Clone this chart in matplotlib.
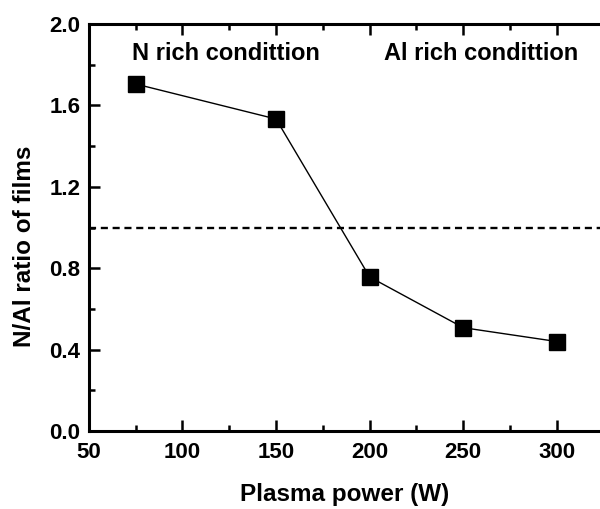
import numpy as np
import matplotlib.pyplot as plt
from matplotlib.ticker import MultipleLocator

plt.rcParams['font.family'] = ['Liberation Sans', 'DejaVu Sans']
plt.rcParams['font.weight'] = 'bold'

# plasma power (W) and N/Al ratio
power = [75, 150, 200, 250, 300]
ratio = [1.705, 1.533, 0.757, 0.508, 0.440]
stoich = 1.0

fig = plt.figure(figsize=(6.0, 5.09), dpi=100)
ax = fig.add_axes([0.148, 0.153, 0.852, 0.80])

ax.plot(power, ratio, '-', color='k', lw=1.0, zorder=2)
ax.plot(power, ratio, 's', color='k', ms=12, zorder=3)
ax.axhline(stoich, color='k', ls=(0, (3, 2)), lw=1.7)

ax.text(123.5, 1.857, 'N rich condittion', ha='center', va='center', fontsize=17, fontweight='bold')
ax.text(259.5, 1.857, 'Al rich condittion', ha='center', va='center', fontsize=17, fontweight='bold')

ax.set_xlim(50, 323)
ax.set_ylim(0, 2.0)
ax.xaxis.set_major_locator(MultipleLocator(50))
ax.xaxis.set_minor_locator(MultipleLocator(25))
ax.yaxis.set_major_locator(MultipleLocator(0.4))
ax.yaxis.set_minor_locator(MultipleLocator(0.2))
ax.yaxis.set_major_formatter(plt.FormatStrFormatter('%.1f'))

ax.tick_params(which='both', direction='in', top=True, width=1.8, labelsize=16)
ax.tick_params(which='major', length=8)
ax.tick_params(which='minor', length=4)
ax.tick_params(axis='x', which='major', pad=8)
ax.tick_params(axis='y', which='major', pad=6)
for s in ['left', 'bottom', 'top']:
    ax.spines[s].set_linewidth(2.2)
ax.spines['right'].set_visible(False)

ax.set_xlabel('Plasma power (W)', fontsize=17.5, fontweight='bold', labelpad=14)
ax.set_ylabel('N/Al ratio of films', fontsize=17.5, fontweight='bold')
ax.yaxis.set_label_coords(-0.104, 0.455)

plt.savefig('out.png', dpi=100)
